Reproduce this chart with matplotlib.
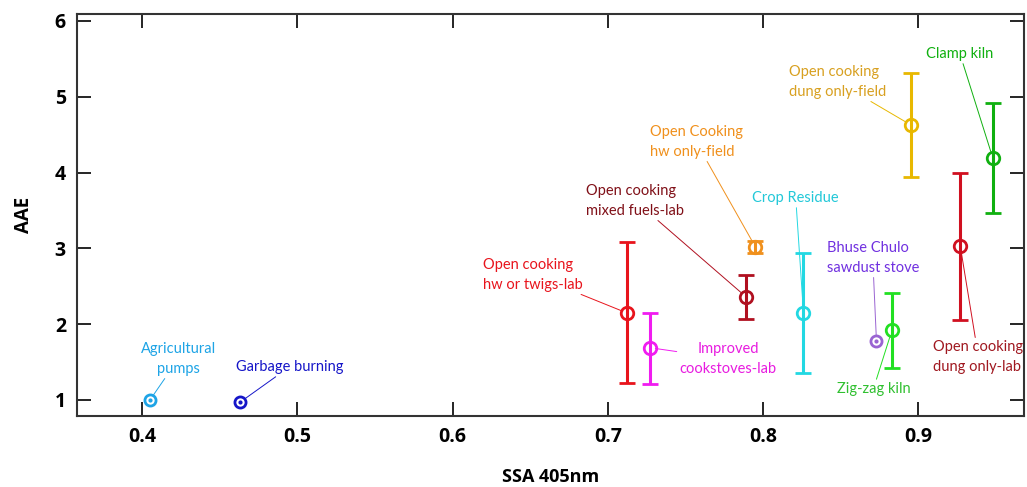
import matplotlib
matplotlib.use("Agg")
import matplotlib.pyplot as plt
import numpy as np

plt.rcParams['font.family'] = ['Lato', 'DejaVu Sans']

# sources, SSA 405nm, AAE, lower/upper error
names = ["Agricultural\npumps", "Garbage burning", "Open cooking\nhw or twigs-lab",
         "Improved\ncookstoves-lab", "Open cooking\nmixed fuels-lab",
         "Open Cooking\nhw only-field", "Crop Residue", "Bhuse Chulo\nsawdust stove",
         "Zig-zag kiln", "Open cooking\ndung only-field", "Open cooking\ndung only-lab",
         "Clamp kiln"]
ssa = [0.405, 0.463, 0.712, 0.727, 0.789, 0.795, 0.826, 0.873, 0.883, 0.895, 0.927, 0.948]
aae = [1.00, 0.97, 2.15, 1.69, 2.36, 3.02, 2.15, 1.78, 1.92, 4.63, 3.03, 4.19]
aae_lo = [0, 0, 0.93, 0.48, 0.29, 0.08, 0.79, 0, 0.50, 0.69, 0.97, 0.72]
aae_hi = [0, 0, 0.93, 0.46, 0.29, 0.08, 0.79, 0, 0.49, 0.68, 0.97, 0.73]
has_err = [False, False, True, True, True, True, True, False, True, True, True, True]
colors = ["#1ea4e6", "#1616c8", "#e8141c", "#f01cf0", "#b01020", "#f0901c",
          "#22d8e2", "#9a64d2", "#22e022", "#e8b800", "#d01020", "#10b010"]
text_colors = ["#1ea4e6", "#1616c8", "#e8141c", "#e81ce0", "#801018", "#f0901c",
               "#22c8d8", "#7030e0", "#30c030", "#d8a020", "#a01820", "#10b010"]
label_x = [0.4232, 0.4948, 0.6516, 0.7774, 0.7177, 0.7568, 0.821, 0.8706, 0.871, 0.848, 0.9387, 0.9268]
label_y = [1.54, 1.435, 2.65, 1.54, 3.625, 4.404, 3.665, 2.873, 1.145, 5.195, 1.567, 5.565]
label_align = ["center", "center", "left", "center", "left", "left", "center", "left",
               "center", "left", "left", "center"]

fig = plt.figure(figsize=(10.27, 4.87), dpi=100)
ax = fig.add_axes([0.075, 0.146, 0.922, 0.825])

for i in range(len(ssa)):
    if has_err[i]:
        ax.errorbar(ssa[i], aae[i], yerr=[[aae_lo[i]], [aae_hi[i]]], fmt='o',
                    mfc='none', mec=colors[i], mew=2, ms=9, ecolor=colors[i],
                    elinewidth=2.2, capsize=6, capthick=2.2, zorder=3)
    else:
        ax.plot(ssa[i], aae[i], 'o', mfc='none', mec=colors[i], mew=2, ms=8, zorder=3)
        ax.plot(ssa[i], aae[i], 'o', color=colors[i], ms=2, zorder=3)
    ax.annotate(names[i], xy=(ssa[i], aae[i]), xytext=(label_x[i], label_y[i]),
                ha='center', va='center', multialignment=label_align[i],
                color=text_colors[i], fontsize=10.5, linespacing=1.5,
                arrowprops=dict(arrowstyle='-', color=colors[i], lw=0.7,
                                shrinkA=0, shrinkB=4))

ax.set_xlim(0.358, 0.968)
ax.set_ylim(0.79, 6.09)
ax.set_xticks([0.4, 0.5, 0.6, 0.7, 0.8, 0.9])
ax.set_yticks([1, 2, 3, 4, 5, 6])
ax.tick_params(direction='in', length=10, width=1.2, top=True, right=True,
               labelsize=14, pad=8)
for lab in ax.get_xticklabels() + ax.get_yticklabels():
    lab.set_fontfamily(['Open Sans', 'DejaVu Sans'])
    lab.set_fontweight('bold')
for sp in ax.spines.values():
    sp.set_linewidth(1.5)
    sp.set_color('#333333')

ax.set_xlabel("SSA 405nm", fontsize=13, fontweight='bold', labelpad=15,
              family=['Open Sans', 'DejaVu Sans'])
ax.set_ylabel("AAE", fontsize=13.5, fontweight='bold', labelpad=15,
              family=['Open Sans', 'DejaVu Sans'])

fig.savefig("out.png", dpi=100)
